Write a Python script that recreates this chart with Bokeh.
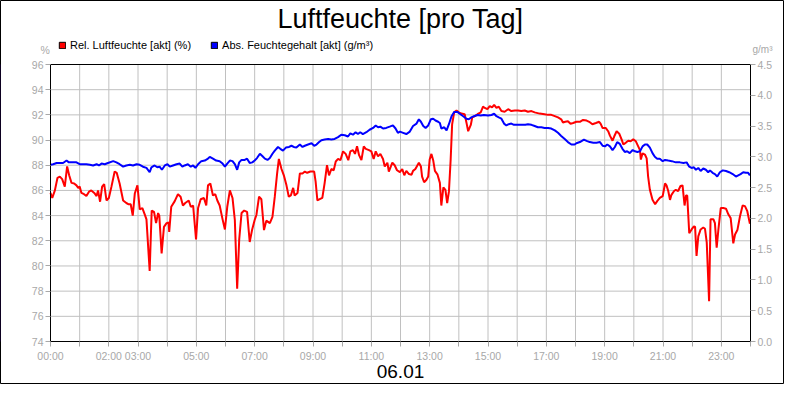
from bokeh.plotting import figure
from bokeh.models import (Range1d, LinearAxis, FixedTicker, Legend, LegendItem, Label,
                          NumeralTickFormatter)
from bokeh.embed import file_html
from bokeh.resources import INLINE

TITLE = "Luftfeuchte [pro Tag]"
DATE_LABEL = "06.01"
REL_NAME = "Rel. Luftfeuchte [akt] (%)"
ABS_NAME = "Abs. Feuchtegehalt [akt] (g/m³)"
LEFT_UNIT = "%"
RIGHT_UNIT = "g/m³"

x_tick_hours = list(range(0, 25))
x_tick_labels = {0: "00:00", 2: "02:00", 3: "03:00", 5: "05:00", 7: "07:00", 9: "09:00",
                 11: "11:00", 13: "13:00", 15: "15:00", 17: "17:00", 19: "19:00",
                 21: "21:00", 23: "23:00"}
left_ticks = [74, 76, 78, 80, 82, 84, 86, 88, 90, 92, 94, 96]
right_ticks = [0.0, 0.5, 1.0, 1.5, 2.0, 2.5, 3.0, 3.5, 4.0, 4.5]

rel_hours = [0.0, 0.06, 0.15, 0.24, 0.32, 0.4, 0.49, 0.57, 0.64, 0.72, 0.81, 0.89, 0.95, 1.0,
             1.06, 1.15, 1.23, 1.32, 1.4, 1.5, 1.58, 1.63, 1.7, 1.77, 1.84, 1.92, 2.0, 2.09,
             2.2, 2.27, 2.37, 2.49, 2.6, 2.68, 2.75, 2.82, 2.89, 2.98, 3.06, 3.15, 3.23, 3.29,
             3.4, 3.47, 3.55, 3.62, 3.69, 3.73, 3.81, 3.89, 3.98, 4.05, 4.07, 4.14, 4.26, 4.37,
             4.46, 4.54, 4.62, 4.74, 4.81, 4.89, 4.99, 5.06, 5.15, 5.26, 5.34, 5.4, 5.48, 5.57,
             5.65, 5.72, 5.8, 5.9, 5.98, 6.06, 6.15, 6.24, 6.32, 6.4, 6.47, 6.55, 6.64, 6.74,
             6.83, 6.91, 7.0, 7.06, 7.15, 7.23, 7.32, 7.4, 7.52, 7.61, 7.69, 7.77, 7.83, 7.92,
             8.0, 8.09, 8.17, 8.24, 8.32, 8.37, 8.47, 8.55, 8.64, 8.72, 8.8, 8.91, 9.04, 9.09,
             9.15, 9.23, 9.32, 9.4, 9.48, 9.55, 9.63, 9.71, 9.78, 9.86, 9.94, 10.03, 10.12,
             10.21, 10.28, 10.37, 10.44, 10.51, 10.58, 10.66, 10.74, 10.81, 10.92, 11.0, 11.08,
             11.15, 11.23, 11.31, 11.4, 11.46, 11.55, 11.6, 11.72, 11.8, 11.88, 11.98, 12.06,
             12.13, 12.2, 12.29, 12.38, 12.43, 12.51, 12.63, 12.7, 12.74, 12.81, 12.89, 12.95,
             13.0, 13.06, 13.12, 13.18, 13.27, 13.35, 13.4, 13.47, 13.54, 13.6, 13.66, 13.72,
             13.77, 13.84, 13.92, 14.0, 14.09, 14.2, 14.26, 14.32, 14.41, 14.46, 14.55, 14.64,
             14.75, 14.83, 14.89, 14.98, 15.06, 15.14, 15.21, 15.29, 15.37, 15.46, 15.57,
             15.69, 15.8, 15.92, 16.03, 16.14, 16.26, 16.37, 16.49, 16.6, 16.77, 16.94, 17.06,
             17.17, 17.29, 17.4, 17.51, 17.57, 17.65, 17.74, 17.83, 17.92, 18.03, 18.15, 18.26,
             18.38, 18.47, 18.58, 18.7, 18.81, 18.86, 18.93, 19.04, 19.12, 19.18, 19.27, 19.33,
             19.41, 19.5, 19.58, 19.64, 19.73, 19.81, 19.89, 19.98, 20.07, 20.15, 20.21, 20.24,
             20.3, 20.38, 20.44, 20.49, 20.55, 20.64, 20.73, 20.8, 20.89, 20.99, 21.07, 21.12,
             21.18, 21.24, 21.29, 21.38, 21.44, 21.52, 21.6, 21.67, 21.74, 21.79, 21.83, 21.9,
             21.98, 22.06, 22.1, 22.15, 22.21, 22.29, 22.38, 22.44, 22.5, 22.58, 22.63, 22.73,
             22.78, 22.84, 22.9, 22.98, 23.07, 23.16, 23.24, 23.32, 23.41, 23.47, 23.55, 23.64,
             23.73, 23.81, 23.89, 23.98]
rel_values = [85.8, 85.4, 86.0, 87.0, 87.1, 86.9, 86.3, 87.9, 87.2, 86.6, 86.55, 86.4, 86.2, 86.3,
              85.8, 85.7, 85.55, 85.9, 86.0, 85.8, 85.55, 86.0, 85.1, 86.3, 86.5, 85.2, 85.4, 86.3,
              87.5, 87.4, 86.55, 85.2, 85.0, 84.9, 84.9, 84.0, 85.75, 86.4, 84.5, 84.6, 84.1, 83.7,
              79.6, 84.4, 84.3, 83.4, 84.2, 84.0, 81.0, 83.1, 83.4, 83.45, 82.7, 84.7, 85.15, 85.7,
              85.5, 84.8, 85.0, 85.2, 84.7, 84.8, 82.1, 84.6, 85.3, 85.4, 84.8, 86.4, 86.55, 85.6,
              85.7, 85.2, 84.8, 83.7, 82.9, 84.7, 86.0, 85.4, 83.65, 78.2, 82.1, 84.2, 84.4, 84.3,
              81.9, 82.85, 83.65, 84.05, 85.5, 85.3, 82.85, 83.6, 83.4, 83.9, 85.5, 87.35, 88.5, 87.7,
              87.2, 86.4, 85.5, 85.6, 86.2, 85.6, 85.8, 87.35, 87.35, 87.5, 87.4, 87.5, 87.5, 86.7,
              85.2, 85.3, 85.4, 86.6, 88.0, 87.2, 87.7, 87.6, 88.3, 88.5, 88.4, 89.1, 88.9,
              88.4, 89.1, 89.2, 88.9, 89.5, 88.8, 88.4, 89.5, 89.3, 89.2, 89.1, 88.5,
              89.1, 88.7, 88.9, 88.5, 87.9, 88.2, 87.5, 88.2, 88.0, 87.6, 87.45, 87.7,
              87.2, 87.55, 87.3, 87.25, 87.55, 87.7, 88.2, 87.9, 87.1, 86.65, 86.85, 87.1,
              88.45, 88.9, 88.4, 87.55, 87.25, 86.6, 84.8, 86.25, 86.05, 85.0, 85.9, 88.45,
              91.25, 92.2, 92.35, 92.2, 92.1, 92.05, 91.4, 90.7, 91.2, 91.8, 91.9, 92.05,
              92.2, 92.65, 92.55, 92.45, 92.7, 92.6, 92.8, 92.55, 92.65, 92.3, 92.25,
              92.45, 92.3, 92.35, 92.35, 92.3, 92.35, 92.25, 92.3, 92.2, 92.1, 92.05, 92.0,
              92.0, 91.9, 91.8, 91.65, 91.4, 91.45, 91.5, 91.3, 91.35, 91.45, 91.45, 91.6,
              91.55, 91.45, 91.25, 91.35, 91.45, 91.3, 90.95, 90.95, 90.7, 90.35, 89.95, 90.3,
              90.7, 90.5, 90.05, 89.65, 89.8, 89.95, 89.9, 90.05, 89.9, 89.5, 89.2, 88.45,
              88.95, 88.85, 88.55, 87.1, 86.05, 85.25, 84.9, 85.15, 85.4, 85.55, 86.55, 86.4,
              85.95, 85.25, 85.65, 85.95, 86.05, 85.95, 86.35, 86.4, 84.8, 85.6, 85.6, 82.6,
              82.9, 83.15, 83.1, 80.8, 82.35, 82.9, 83.05, 82.95, 81.85, 77.2, 83.7, 83.7,
              83.4, 81.45, 82.9, 84.6, 84.6, 84.55, 84.1, 83.8, 81.8, 82.5, 82.85, 83.95,
              84.8, 84.75, 84.35, 83.35]

abs_hours = [0.0, 0.09, 0.21, 0.32, 0.43, 0.55, 0.63, 0.78, 0.89, 1.0, 1.12, 1.23, 1.35, 1.46,
             1.58, 1.66, 1.75, 1.86, 1.97, 2.15, 2.26, 2.37, 2.49, 2.6, 2.72, 2.83, 2.95, 3.06,
             3.17, 3.29, 3.4, 3.46, 3.57, 3.66, 3.74, 3.82, 3.92, 4.01, 4.09, 4.2, 4.32, 4.43,
             4.52, 4.6, 4.71, 4.81, 4.89, 4.97, 5.06, 5.17, 5.29, 5.4, 5.46, 5.57, 5.68, 5.8,
             5.9, 5.98, 6.06, 6.15, 6.24, 6.32, 6.4, 6.47, 6.55, 6.66, 6.74, 6.83, 6.92, 7.0,
             7.08, 7.18, 7.27, 7.35, 7.44, 7.52, 7.61, 7.69, 7.8, 7.88, 7.97, 8.07, 8.18, 8.26,
             8.34, 8.43, 8.55, 8.64, 8.72, 8.83, 8.95, 9.04, 9.12, 9.21, 9.29, 9.4, 9.52, 9.63,
             9.74, 9.86, 9.97, 10.09, 10.2, 10.28, 10.37, 10.46, 10.54, 10.62, 10.71, 10.83,
             10.94, 11.06, 11.15, 11.23, 11.31, 11.4, 11.51, 11.63, 11.74, 11.83, 11.91, 11.98,
             12.09, 12.2, 12.32, 12.43, 12.55, 12.63, 12.7, 12.78, 12.86, 12.95, 13.04, 13.12,
             13.2, 13.29, 13.35, 13.4, 13.5, 13.58, 13.66, 13.75, 13.84, 13.95, 14.03, 14.15,
             14.26, 14.34, 14.43, 14.52, 14.64, 14.75, 14.86, 15.0, 15.12, 15.21, 15.29, 15.37,
             15.46, 15.55, 15.63, 15.71, 15.8, 15.89, 16.01, 16.14, 16.28, 16.37, 16.49, 16.6,
             16.71, 16.83, 16.94, 17.06, 17.17, 17.29, 17.4, 17.51, 17.63, 17.74, 17.86, 17.97,
             18.03, 18.15, 18.29, 18.38, 18.49, 18.61, 18.72, 18.84, 18.93, 19.01, 19.09, 19.18,
             19.27, 19.35, 19.43, 19.52, 19.61, 19.69, 19.77, 19.86, 19.96, 20.04, 20.12, 20.21,
             20.3, 20.38, 20.46, 20.55, 20.64, 20.72, 20.8, 20.89, 20.99, 21.07, 21.18, 21.3,
             21.44, 21.58, 21.7, 21.81, 21.9, 21.98, 22.06, 22.13, 22.21, 22.29, 22.38, 22.47,
             22.55, 22.61, 22.7, 22.78, 22.86, 22.95, 23.05, 23.16, 23.27, 23.39, 23.5, 23.58,
             23.66, 23.75, 23.84, 23.92, 23.98]
abs_values = [2.87, 2.88, 2.9, 2.9, 2.9, 2.94, 2.91, 2.91, 2.91, 2.88, 2.88, 2.88, 2.87, 2.86,
              2.88, 2.86, 2.89, 2.88, 2.9, 2.93, 2.91, 2.88, 2.84, 2.86, 2.87, 2.86, 2.88, 2.87,
              2.84, 2.82, 2.75, 2.83, 2.86, 2.83, 2.84, 2.79, 2.86, 2.88, 2.84, 2.86, 2.88, 2.89,
              2.84, 2.86, 2.88, 2.84, 2.86, 2.82, 2.88, 2.93, 2.94, 2.97, 3.0, 2.97, 2.94, 2.93,
              2.89, 2.84, 2.89, 2.94, 2.93, 2.88, 2.79, 2.91, 2.95, 2.95, 2.97, 2.9, 2.91, 2.94,
              2.98, 3.05, 3.01, 2.97, 2.95, 2.98, 3.05, 3.1, 3.16, 3.13, 3.1, 3.15, 3.16, 3.18,
              3.16, 3.15, 3.2, 3.16, 3.18, 3.2, 3.22, 3.18, 3.2, 3.24, 3.27, 3.28, 3.29, 3.28,
              3.29, 3.32, 3.36, 3.35, 3.33, 3.38, 3.36, 3.4, 3.37, 3.4, 3.37, 3.4,
              3.44, 3.47, 3.51, 3.48, 3.49, 3.46, 3.47, 3.49, 3.51, 3.46, 3.39, 3.41,
              3.39, 3.37, 3.41, 3.5, 3.54, 3.61, 3.57, 3.5, 3.47, 3.51, 3.61, 3.62,
              3.59, 3.57, 3.55, 3.46, 3.48, 3.43, 3.53, 3.66, 3.73, 3.73, 3.7, 3.66,
              3.62, 3.61, 3.64, 3.66, 3.68, 3.67, 3.68, 3.67, 3.68, 3.7, 3.66, 3.64,
              3.62, 3.54, 3.51, 3.53, 3.54, 3.52, 3.52, 3.52, 3.52, 3.53, 3.52, 3.5,
              3.48, 3.48, 3.47, 3.47, 3.46, 3.43, 3.39, 3.34, 3.29, 3.24, 3.2, 3.2,
              3.22, 3.24, 3.28, 3.26, 3.24, 3.23, 3.23, 3.24, 3.18, 3.17, 3.2, 3.17,
              3.11, 3.16, 3.24, 3.21, 3.13, 3.08, 3.09, 3.06, 3.11, 3.09, 3.08, 3.09,
              3.17, 3.2, 3.2, 3.15, 3.06, 3.0, 2.97, 2.97, 2.93, 2.95, 2.94, 2.93,
              2.91, 2.91, 2.9, 2.91, 2.84, 2.82, 2.83, 2.79, 2.82, 2.77, 2.81, 2.79,
              2.75, 2.78, 2.74, 2.72, 2.68, 2.75, 2.78, 2.77, 2.75, 2.72, 2.68, 2.7,
              2.72, 2.75, 2.74, 2.74, 2.7]

# ---- layout (pixels) ----
FONT = "Liberation Sans"
TICK_GREY = "#a8a8a8"
GRID_GREY = "#c0c0c0"
W, H = 784, 384
BOX_L, BOX_R, BOX_T, BOX_B = 50, 750, 64, 341
X0, X1 = x_tick_hours[0], x_tick_hours[-1]
Y0, Y1 = left_ticks[0], left_ticks[-1]
A0, A1 = right_ticks[0], right_ticks[-1]

def hx(px):
    return X0 + (px - BOX_L) * (X1 - X0) / (BOX_R - BOX_L)

def vy(py):
    return Y1 + (BOX_T - py) * (Y1 - Y0) / (BOX_B - BOX_T)

def ay(py):
    return A1 + (BOX_T - py) * (A1 - A0) / (BOX_B - BOX_T)

def text_y(baseline_px, font_px):
    # Bokeh draws "alphabetic" text about 0.3 em lower than the anchor
    return vy(baseline_px - 0.3 * font_px)

p = figure(width=W, height=H, output_backend="svg", toolbar_location=None,
           x_range=Range1d(hx(0), hx(W)), y_range=Range1d(vy(H), vy(0)),
           min_border=0, min_border_left=0, min_border_right=0,
           min_border_top=0, min_border_bottom=0)
p.title.visible = False
p.extra_y_ranges = {"abs": Range1d(ay(H), ay(0))}
p.background_fill_color = "white"
p.border_fill_color = "white"
p.outline_line_color = "black"
p.outline_line_width = 1
p.xgrid.visible = False
p.ygrid.visible = False

def style_axis(ax, standoff):
    ax.axis_line_color = "black"
    ax.major_tick_line_color = TICK_GREY
    ax.major_tick_out = 5
    ax.major_tick_in = 0
    ax.minor_tick_line_color = None
    ax.major_label_text_color = TICK_GREY
    ax.major_label_text_font = FONT
    ax.major_label_text_font_size = "10.5px"
    ax.major_label_standoff = standoff

# grid lines within the plot box, at the tick positions
p.segment(x0=x_tick_hours[1:-1], x1=x_tick_hours[1:-1], y0=Y0, y1=Y1,
          line_color=GRID_GREY, line_width=1)
p.segment(x0=X0, x1=X1, y0=left_ticks[1:-1], y1=left_ticks[1:-1],
          line_color=GRID_GREY, line_width=1)

p.line(rel_hours, rel_values, line_color="#ff0000", line_width=2)
p.line(abs_hours, abs_values, line_color="#0000ff", line_width=2, y_range_name="abs")

xa = p.xaxis[0]
xa.ticker = FixedTicker(ticks=x_tick_hours)
xa.major_label_overrides = {h: x_tick_labels.get(h, "") for h in x_tick_hours}
xa.fixed_location = Y0
xa.bounds = (X0, X1)
style_axis(xa, 3)

ya = p.yaxis[0]
ya.ticker = FixedTicker(ticks=left_ticks)
ya.fixed_location = X0
ya.bounds = (Y0, Y1)
style_axis(ya, 2)

ra = LinearAxis(y_range_name="abs", ticker=FixedTicker(ticks=right_ticks),
                formatter=NumeralTickFormatter(format="0.0"))
ra.fixed_location = X1
ra.bounds = (A0, A1)
style_axis(ra, 2)
p.add_layout(ra, "right")

ta = LinearAxis(ticker=FixedTicker(ticks=[]))
ta.fixed_location = Y1
ta.bounds = (X0, X1)
ta.axis_line_color = "black"
ta.major_tick_line_color = None
ta.minor_tick_line_color = None
ta.major_label_text_font_size = "0px"
p.add_layout(ta, "above")

# legend proxies: one bar each, placed outside the visible area (legend swatches only)
OFF = hx(-1000)
leg_rel = p.vbar(x=[OFF], top=[Y1], bottom=[Y0], width=0.1,
                 fill_color="#ff0000", line_color="black")
leg_abs = p.vbar(x=[OFF], top=[Y1], bottom=[Y0], width=0.1,
                 fill_color="#0000ff", line_color="black")
legend = Legend(items=[LegendItem(label=REL_NAME, renderers=[leg_rel]),
                       LegendItem(label=ABS_NAME, renderers=[leg_abs])],
                orientation="horizontal", location=(58, H - 51),
                glyph_width=8, glyph_height=8, label_standoff=4, spacing=19,
                padding=0, margin=0, border_line_color=None, background_fill_alpha=0,
                label_text_font=FONT, label_text_font_size="11px", label_height=8,
                label_text_color="black")
p.add_layout(legend)

p.add_layout(Label(x=hx(400), y=text_y(26.7, 27), text=TITLE, text_align="center",
                   text_baseline="alphabetic", text_font=FONT, text_font_size="27px",
                   text_color="black"))
p.add_layout(Label(x=hx(400), y=text_y(377, 19), text=DATE_LABEL, text_align="center",
                   text_baseline="alphabetic", text_font=FONT, text_font_size="19px",
                   text_color="black"))
p.add_layout(Label(x=hx(40), y=text_y(53, 10.5), text=LEFT_UNIT, text_align="left",
                   text_baseline="alphabetic", text_font=FONT, text_font_size="10.5px",
                   text_color=TICK_GREY))
p.add_layout(Label(x=hx(752), y=text_y(52, 10), text=RIGHT_UNIT, text_align="left",
                   text_baseline="alphabetic", text_font=FONT, text_font_size="10px",
                   text_color=TICK_GREY))

open("out.html", "w").write(file_html(p, INLINE))
